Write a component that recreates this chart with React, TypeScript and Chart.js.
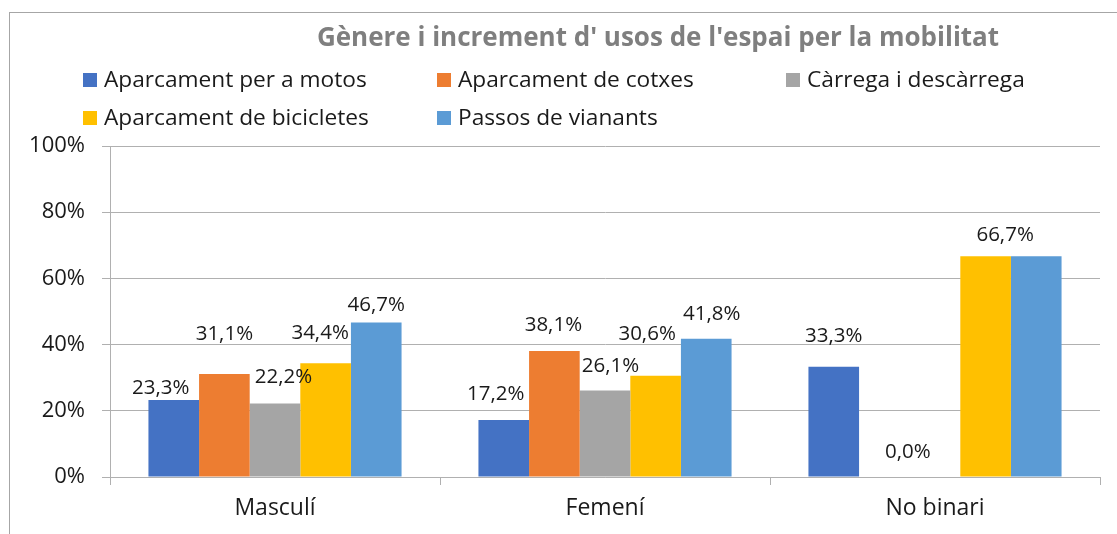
import { useEffect, useRef } from "react";
import { Chart, registerables } from "chart.js";

Chart.register(...registerables);

// ---- data ----
const categories = ["Masculí", "Femení", "No binari"];
const seriesNames = [
  "Aparcament per a motos",
  "Aparcament de cotxes",
  "Càrrega i descàrrega",
  "Aparcament de bicicletes",
  "Passos de vianants",
];
const motos = [23.3, 17.2, 33.3];
const cotxes = [31.1, 38.1, 0.0];
const carrega = [22.2, 26.1, 0.0];
const bicicletes = [34.4, 30.6, 66.7];
const vianants = [46.7, 41.8, 66.7];
const yTickValues = [0, 20, 40, 60, 80, 100];
const chartTitle = "Gènere i increment d' usos de l'espai per la mobilitat";

// ---- styles ----
const seriesColors = ["#4472C4", "#ED7D31", "#A5A5A5", "#FFC000", "#5B9BD5"];
const FONT = '"Open Sans", "DejaVu Sans", sans-serif';
const LINE = "#b0b0b0";
const TEXT = "#1a1a1a";

// label nudges [dx, rise above bar top] per series, per category (Excel-placed labels)
const labelNudges = [
  [[-13, 12], [-8, 26], [0, 31]],
  [[0, 40], [-1, 26], [23.5, 25]],
  [[8.5, 26], [5.5, 24], [-27, 25]],
  [[-5.5, 30], [-8.5, 42], [19.5, 21]],
  [[0, 17], [5.5, 24], [-31.5, 21]],
];

const fmt = (v: number) => v.toFixed(1).replace(".", ",") + "%";

const decorPlugin = {
  id: "decor",
  afterDatasetsDraw(chart: any) {
    const ctx = chart.ctx;
    ctx.save();
    ctx.font = `20.5px ${FONT}`;
    ctx.fillStyle = TEXT;
    ctx.textAlign = "center";
    ctx.textBaseline = "middle";
    const seen = new Set<string>();
    chart.data.datasets.forEach((ds: any, di: number) => {
      const meta = chart.getDatasetMeta(di);
      meta.data.forEach((bar: any, i: number) => {
        const v = ds.data[i];
        if (v === null || v === undefined) return;
        const [dx, rise] = labelNudges[di][i];
        const x = bar.x + dx;
        const y = bar.y - rise;
        const text = fmt(v);
        const key = `${text}|${Math.round(x)}|${Math.round(y)}`;
        if (seen.has(key)) return;
        seen.add(key);
        ctx.fillText(text, x, y);
      });
    });
    ctx.restore();
  },
  afterDraw(chart: any) {
    const ctx = chart.ctx;
    ctx.save();
    // title
    ctx.font = `bold 26px ${FONT}`;
    ctx.fillStyle = "#7f7f7f";
    ctx.textAlign = "center";
    ctx.textBaseline = "alphabetic";
    ctx.fillText(chartTitle, 658, 46);
    // legend in grid
    const cols = [83, 437, 786];
    const rows = [87, 125];
    ctx.font = `22.7px ${FONT}`;
    ctx.textAlign = "left";
    chart.data.datasets.forEach((ds: any, di: number) => {
      const col = di % 3;
      const row = Math.floor(di / 3);
      const x = cols[col];
      const base = rows[row];
      ctx.fillStyle = ds.backgroundColor;
      ctx.fillRect(x, base - 14, 14, 14);
      ctx.fillStyle = TEXT;
      ctx.fillText(ds.label, x + 21, base);
    });
    ctx.restore();
  },
};

export default function App() {
  const ref = useRef<HTMLCanvasElement>(null);
  useEffect(() => {
    if (!ref.current) return;
    const seriesData = [motos, cotxes, carrega, bicicletes, vianants];
    const chart = new Chart(ref.current, {
      type: "bar",
      data: {
        labels: categories,
        datasets: seriesNames.map((name, i) => ({
          label: name,
          data: seriesData[i],
          backgroundColor: seriesColors[i],
          borderWidth: 0,
          categoryPercentage: 0.767,
          barPercentage: 1.0,
        })),
      },
      options: {
        animation: false,
        responsive: false,
        events: [],
        layout: { padding: { left: 0, right: 17, top: 146, bottom: 0 } },
        plugins: {
          legend: { display: false },
          title: { display: false },
          tooltip: { enabled: false },
        },
        scales: {
          x: {
            type: "category",
            grid: {
              drawOnChartArea: false,
              drawTicks: true,
              tickLength: 8,
              color: LINE,
              tickColor: LINE,
              offset: true,
            },
            border: { color: LINE, width: 1 },
            ticks: { font: { family: FONT, size: 23 }, color: TEXT, padding: 10 },
            afterFit: (s: any) => {
              s.height = 57;
            },
          },
          y: {
            min: 0,
            max: 100,
            afterBuildTicks: (s: any) => {
              s.ticks = yTickValues.map((v) => ({ value: v }));
            },
            ticks: {
              font: { family: FONT, size: 22 },
              color: TEXT,
              padding: 17,
              callback: (v: any) => `${v}%`,
            },
            grid: { color: LINE, tickColor: LINE, tickLength: 8, drawTicks: true },
            border: { color: LINE, width: 1 },
            afterFit: (s: any) => {
              s.width = 110;
            },
          },
        },
      },
      plugins: [decorPlugin],
    });
    let alive = true;
    document.fonts
      .load(`23px "Open Sans"`)
      .then(() => document.fonts.load(`bold 26px "Open Sans"`))
      .then(() => {
        if (alive) chart.update();
      })
      .catch(() => {});
    return () => {
      alive = false;
      chart.destroy();
    };
  }, []);

  return (
    <div
      style={{
        position: "fixed",
        left: 0,
        top: 0,
        width: 1117,
        height: 534,
        overflow: "hidden",
        background: "#ffffff",
      }}
    >
      <div
        style={{
          position: "absolute",
          left: 9,
          top: 12,
          width: 1300,
          height: 700,
          border: "1px solid #a6a6a6",
        }}
      />
      <canvas
        ref={ref}
        width={1117}
        height={534}
        style={{ position: "absolute", left: 0, top: 0, display: "block" }}
      />
    </div>
  );
}
